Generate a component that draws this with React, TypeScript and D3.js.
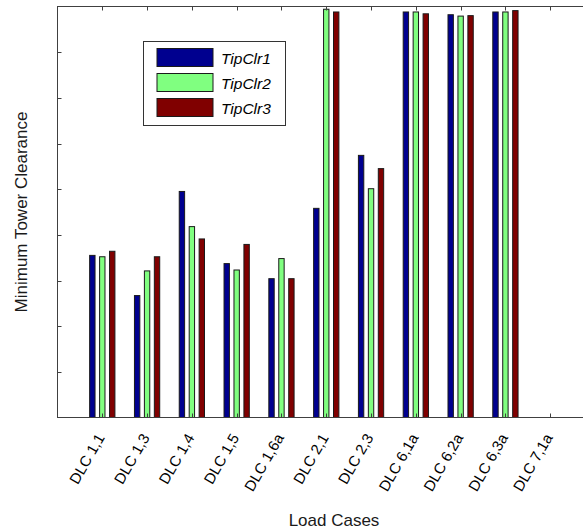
import * as d3 from "d3"
import { useEffect, useRef } from "react"

const categories = [
  "DLC 1,1",
  "DLC 1,3",
  "DLC 1,4",
  "DLC 1,5",
  "DLC 1,6a",
  "DLC 2,1",
  "DLC 2,3",
  "DLC 6,1a",
  "DLC 6,2a",
  "DLC 6,3a",
  "DLC 7,1a",
]
const seriesNames = ["TipClr1", "TipClr2", "TipClr3"]
const seriesColors = ["#00008f", "#80ff80", "#800000"]
const tipClr1 = [3.55, 2.67, 4.95, 3.37, 3.04, 4.58, 5.74, 8.88, 8.82, 8.88, 0]
const tipClr2 = [3.52, 3.21, 4.18, 3.23, 3.48, 8.94, 5.01, 8.88, 8.79, 8.88, 0]
const tipClr3 = [3.64, 3.52, 3.91, 3.79, 3.04, 8.88, 5.45, 8.84, 8.8, 8.91, 0]
const yTicks = [0, 1, 2, 3, 4, 5, 6, 7, 8, 9]

const W = 583
const H = 531

const App = () => {
  const svgRef = useRef<SVGSVGElement | null>(null)

  useEffect(() => {
    if (!svgRef.current) return
    const svg = d3.select(svgRef.current)
    svg.selectAll("*").remove()

    const series = [tipClr1, tipClr2, tipClr3]
    const left = 57.5
    const top = 6.5
    const bottom = 417.5
    const right = 595 // axes box runs past the picture's edge

    const x = d3.scaleLinear().domain([0, 12]).range([left, right])
    const y = d3.scaleLinear().domain([0, 9]).range([bottom, top])
    // offsets of the three bars inside a group, in x units
    const offset = d3.scaleLinear().domain([0, 2]).range([-0.222, 0.222])
    const barW = x(0.12) - x(0)

    const axisColor = "#404040"
    const tickLen = 4
    const font = "'Liberation Sans', Arial, sans-serif"

    // bars
    series.forEach((vals, s) => {
      svg
        .append("g")
        .selectAll("rect")
        .data(vals.map((v, i) => ({ v, i })).filter((d) => d.v > 0))
        .enter()
        .append("rect")
        .attr("x", (d) => x(d.i + 1 + offset(s)) - barW / 2)
        .attr("y", (d) => y(d.v))
        .attr("width", barW)
        .attr("height", (d) => y(0) - y(d.v))
        .attr("fill", seriesColors[s])
        .attr("stroke", "#1a1a1a")
        .attr("stroke-width", 1)
    })

    // axes box
    const g = svg.append("g")
    g.append("rect")
      .attr("x", left)
      .attr("y", top)
      .attr("width", right - left)
      .attr("height", bottom - top)
      .attr("fill", "none")
      .attr("stroke", axisColor)
      .attr("stroke-width", 1)

    // x ticks (top and bottom, inward)
    const xt = categories.map((_, i) => i + 1)
    g.selectAll(".xtb")
      .data(xt)
      .enter()
      .append("line")
      .attr("x1", (d) => Math.round(x(d)) + 0.5)
      .attr("x2", (d) => Math.round(x(d)) + 0.5)
      .attr("y1", bottom)
      .attr("y2", bottom - tickLen)
      .attr("stroke", axisColor)
    g.selectAll(".xtt")
      .data(xt)
      .enter()
      .append("line")
      .attr("x1", (d) => Math.round(x(d)) + 0.5)
      .attr("x2", (d) => Math.round(x(d)) + 0.5)
      .attr("y1", top)
      .attr("y2", top + tickLen)
      .attr("stroke", axisColor)

    // y ticks (left, inward, no labels)
    g.selectAll(".yt")
      .data(yTicks.slice(1, -1))
      .enter()
      .append("line")
      .attr("x1", left)
      .attr("x2", left + tickLen)
      .attr("y1", (d) => Math.round(y(d)) + 0.5)
      .attr("y2", (d) => Math.round(y(d)) + 0.5)
      .attr("stroke", axisColor)

    // rotated category labels
    g.selectAll(".xl")
      .data(categories)
      .enter()
      .append("text")
      .attr(
        "transform",
        (_, i) => `translate(${x(i + 1) + 3},${bottom + 20}) rotate(-60)`,
      )
      .attr("text-anchor", "end")
      .style("font", `15px ${font}`)
      .attr("fill", "#000")
      .text((d) => d)

    // axis titles
    svg
      .append("text")
      .attr("x", 334)
      .attr("y", 526)
      .attr("text-anchor", "middle")
      .style("font", `17px ${font}`)
      .attr("fill", "#1a1a1a")
      .text("Load Cases")

    svg
      .append("text")
      .attr("transform", `translate(27,${(top + bottom) / 2}) rotate(-90)`)
      .attr("text-anchor", "middle")
      .style("font", `17px ${font}`)
      .attr("fill", "#1a1a1a")
      .text("Minimum Tower Clearance")

    // legend
    const lg = svg.append("g")
    lg.append("rect")
      .attr("x", 143.5)
      .attr("y", 41.5)
      .attr("width", 142)
      .attr("height", 84)
      .attr("fill", "#fff")
      .attr("stroke", "#333")
    const rowY = d3.scalePoint().domain(seriesNames).range([57.5, 107.5])
    seriesNames.forEach((name, s) => {
      const cy = rowY(name)!
      lg.append("rect")
        .attr("x", 157)
        .attr("y", cy - 9)
        .attr("width", 56)
        .attr("height", 18)
        .attr("fill", seriesColors[s])
        .attr("stroke", "#1a1a1a")
      lg.append("text")
        .attr("x", 221)
        .attr("y", cy + 6)
        .style("font", `italic 15.5px ${font}`)
        .attr("fill", "#000")
        .text(name)
    })
  }, [])

  return (
    <div style={{ position: "fixed", left: 0, top: 0 }}>
      <svg
        ref={svgRef}
        width={W}
        height={H}
        style={{ display: "block", background: "#fff" }}
      />
    </div>
  )
}

export default App
